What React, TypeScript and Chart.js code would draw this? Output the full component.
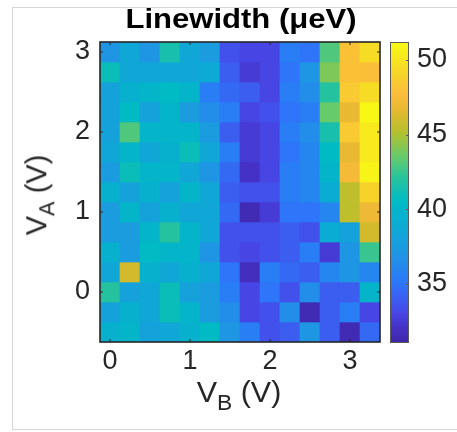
import React, { useEffect, useRef } from "react";
import { Chart, registerables } from "chart.js";

Chart.register(...registerables);

// ---- data ----
const VB: number[] = [0, 0.25, 0.5, 0.75, 1, 1.25, 1.5, 1.75, 2, 2.25, 2.5, 2.75, 3, 3.25];
const VA: number[] = [3, 2.75, 2.5, 2.25, 2, 1.75, 1.5, 1.25, 1, 0.75, 0.5, 0.25, 0, -0.25, -0.5];
// Linewidth (µeV), one row per VA value (top to bottom), one column per VB value
const LINEWIDTH: number[][] = [
  [37, 38.5, 37, 41.5, 38.5, 37.5, 33.5, 33, 33, 35.5, 35, 43, 48, 49.5],
  [41, 38.5, 38.5, 38.5, 38.5, 38.8, 34, 32.5, 33, 35, 37, 44, 48, 47.8],
  [38, 39.5, 40, 40.5, 40, 35.5, 34.5, 34, 33, 35.5, 36.5, 42, 48.5, 49.5],
  [38, 40.5, 38, 40, 37.5, 36.5, 35.5, 33, 33.5, 35, 35.5, 43.5, 46.8, 51],
  [38, 43, 40, 40, 40, 37.5, 34, 32.5, 33, 35.5, 36.5, 41.5, 48.5, 50.3],
  [38.5, 40, 38.5, 39.5, 41, 38.5, 35.5, 32.5, 33, 35, 36, 40.5, 46.8, 50.3],
  [37.5, 41, 40, 40, 38.5, 37, 34.5, 32, 33, 35.5, 36, 40, 47.3, 50.8],
  [39.5, 38, 39.5, 38, 40, 38.5, 34, 33.5, 33.5, 35.5, 36, 39, 45.5, 49],
  [37.5, 40, 38, 39.5, 38.5, 38.5, 34.5, 31.5, 32.5, 35, 35, 36, 45.5, 47],
  [37.5, 37.5, 40, 42, 40, 38.5, 33.5, 33.5, 33.5, 34, 33.5, 39, 38, 46],
  [39.5, 37.5, 40.5, 40, 40, 37, 33.5, 33, 33.5, 34, 35.5, 32.5, 37, 42.5],
  [38.5, 46, 39.5, 38.5, 39.5, 38.5, 35, 31.8, 35.5, 34.5, 34, 36, 37, 36],
  [42, 38, 38.5, 41, 38, 37.5, 35.5, 33, 35, 33.5, 36.5, 34, 34, 40],
  [38, 39.5, 38.5, 41, 40, 37.5, 36.5, 33, 33.5, 36.5, 31.5, 34, 35.5, 33],
  [39.5, 40, 38, 38.5, 39.5, 40.5, 37, 35.5, 33.5, 34, 37, 34, 31.5, 34.5],
];
const X_TICKS: number[] = [0, 1, 2, 3];
const Y_TICKS: number[] = [0, 1, 2, 3];
const CBAR_TICKS: number[] = [35, 40, 45, 50];
const CMIN = 31.1;
const CMAX = 51.2;
const STEP = 0.25;

// ---- parula-like colormap ----
const PARULA: [number, number, number, number][] = [
  [0.0, 62, 38, 168],
  [0.05, 70, 50, 200],
  [0.1, 71, 72, 232],
  [0.2, 44, 120, 250],
  [0.3, 30, 152, 226],
  [0.4, 10, 174, 210],
  [0.47, 0, 186, 196],
  [0.55, 40, 195, 155],
  [0.62, 105, 203, 105],
  [0.7, 180, 192, 45],
  [0.76, 222, 185, 45],
  [0.82, 252, 186, 60],
  [0.9, 246, 214, 40],
  [1.0, 249, 251, 20],
];
function parulaT(t: number): string {
  t = Math.max(0, Math.min(1, t));
  for (let i = 1; i < PARULA.length; i++) {
    const a = PARULA[i - 1];
    const b = PARULA[i];
    if (t <= b[0]) {
      const f = (t - a[0]) / (b[0] - a[0]);
      const c = [1, 2, 3].map((k) => Math.round(a[k] + (b[k] - a[k]) * f));
      return `rgb(${c[0]},${c[1]},${c[2]})`;
    }
  }
  const l = PARULA[PARULA.length - 1];
  return `rgb(${l[1]},${l[2]},${l[3]})`;
}
const colorFor = (v: number) => parulaT((v - CMIN) / (CMAX - CMIN));

const FONT = '"Liberation Sans", Arial, Helvetica, sans-serif';
const TEXT = "#262626";

const framePlugin = {
  id: "frameTicks",
  afterDatasetsDraw(chart: any) {
    const { ctx, chartArea: a, scales } = chart;
    const x = scales.x;
    const y = scales.y;
    ctx.save();
    ctx.strokeStyle = TEXT;
    ctx.lineWidth = 1;
    ctx.beginPath();
    for (const t of x.ticks) {
      const px = x.getPixelForValue(t.value);
      ctx.moveTo(px, a.bottom);
      ctx.lineTo(px, a.bottom - 3);
      ctx.moveTo(px, a.top);
      ctx.lineTo(px, a.top + 3);
    }
    for (const t of y.ticks) {
      const py = y.getPixelForValue(t.value);
      ctx.moveTo(a.left, py);
      ctx.lineTo(a.left + 3, py);
      ctx.moveTo(a.right, py);
      ctx.lineTo(a.right - 3, py);
    }
    ctx.stroke();
    ctx.lineWidth = 1.6;
    ctx.strokeRect(a.left, a.top, a.right - a.left, a.bottom - a.top);
    ctx.restore();
  },
};

const cbarPlugin = {
  id: "cbarTicks",
  afterDatasetsDraw(chart: any) {
    const { ctx, chartArea: a, scales } = chart;
    const y = scales.y;
    ctx.save();
    ctx.strokeStyle = "#5a5a5a";
    ctx.lineWidth = 1;
    ctx.beginPath();
    for (const t of y.ticks) {
      const py = Math.round(y.getPixelForValue(t.value)) + 0.5;
      ctx.moveTo(a.right, py);
      ctx.lineTo(a.right - 3, py);
    }
    ctx.stroke();
    ctx.strokeRect(a.left + 0.5, a.top + 0.5, a.right - a.left - 1, a.bottom - a.top);
    ctx.restore();
  },
};

function Heatmap() {
  const ref = useRef<HTMLCanvasElement>(null);
  useEffect(() => {
    if (!ref.current) return;
    const datasets = VA.map((ya, r) => ({
      label: `VA=${ya}`,
      data: VB.map((xb) => ({ x: xb, y: [ya - STEP / 2, ya + STEP / 2] })),
      backgroundColor: LINEWIDTH[r].map(colorFor),
      borderWidth: 0,
      barPercentage: 1,
      categoryPercentage: 1,
      grouped: false,
    }));
    const chart = new Chart(ref.current, {
      type: "bar",
      data: { datasets: datasets as any },
      options: {
        animation: false,
        responsive: true,
        maintainAspectRatio: false,
        layout: { padding: { left: 0, top: 42, right: 77, bottom: 0 } },
        plugins: { legend: { display: false }, tooltip: { enabled: false }, title: { display: false } },
        scales: {
          x: {
            type: "linear",
            min: VB[0] - STEP / 2,
            max: VB[VB.length - 1] + STEP / 2,
            offset: false,
            grid: { display: false, drawTicks: false, offset: false },
            border: { display: false },
            afterBuildTicks: (s: any) => {
              s.ticks = X_TICKS.map((v) => ({ value: v }));
            },
            ticks: { font: { size: 27, family: FONT }, color: TEXT, padding: 3, maxRotation: 0, autoSkip: false },
            afterFit: (s: any) => {
              s.height = 90;
            },
          },
          y: {
            type: "linear",
            min: VA[VA.length - 1] - STEP / 2,
            max: VA[0] + STEP / 2,
            grid: { display: false, drawTicks: false },
            border: { display: false },
            afterBuildTicks: (s: any) => {
              s.ticks = Y_TICKS.map((v) => ({ value: v }));
            },
            ticks: { font: { size: 27, family: FONT }, color: TEXT, padding: 10, autoSkip: false },
            afterFit: (s: any) => {
              s.width = 100;
            },
          },
        },
      },
      plugins: [framePlugin],
    });
    return () => chart.destroy();
  }, []);
  return (
    <div style={{ position: "absolute", left: 0, top: 0, width: 457, height: 432 }}>
      <canvas ref={ref} />
    </div>
  );
}

function Colorbar() {
  const ref = useRef<HTMLCanvasElement>(null);
  useEffect(() => {
    if (!ref.current) return;
    const chart = new Chart(ref.current, {
      type: "bar",
      data: {
        labels: ["Linewidth"],
        datasets: [
          {
            data: [[CMIN, CMAX]] as any,
            backgroundColor: (c: any) => {
              const ch = c.chart;
              const ys = ch.scales && ch.scales.y;
              if (!ch.chartArea || !ys) return colorFor((CMIN + CMAX) / 2);
              const g = ch.ctx.createLinearGradient(0, ys.getPixelForValue(CMIN), 0, ys.getPixelForValue(CMAX));
              for (let i = 0; i <= 64; i++) g.addColorStop(i / 64, parulaT(i / 64));
              return g;
            },
            borderWidth: 0,
            barPercentage: 1,
            categoryPercentage: 1,
          },
        ],
      },
      options: {
        animation: false,
        responsive: true,
        maintainAspectRatio: false,
        layout: { padding: { left: 10, top: 42, right: 0, bottom: 90 } },
        plugins: { legend: { display: false }, tooltip: { enabled: false } },
        scales: {
          x: { display: false },
          y: {
            position: "right",
            min: CMIN,
            max: CMAX,
            grid: { display: false, drawTicks: false },
            border: { display: false },
            afterBuildTicks: (s: any) => {
              s.ticks = CBAR_TICKS.map((v) => ({ value: v }));
            },
            ticks: { font: { size: 27, family: FONT }, color: TEXT, padding: 8, autoSkip: false },
            afterFit: (s: any) => {
              s.width = 48;
            },
          },
        },
      },
      plugins: [cbarPlugin],
    });
    return () => chart.destroy();
  }, []);
  return (
    <div style={{ position: "absolute", left: 380, top: 0, width: 77, height: 432 }}>
      <canvas ref={ref} />
    </div>
  );
}

export default function App() {
  const label: React.CSSProperties = {
    position: "absolute",
    fontFamily: FONT,
    color: TEXT,
    fontSize: 29,
    whiteSpace: "nowrap",
    lineHeight: 1,
  };
  return (
    <div
      style={{
        position: "absolute",
        left: 0,
        top: 0,
        width: 457,
        height: 432,
        overflow: "hidden",
        background: "#fff",
      }}
    >
      <div
        style={{
          position: "absolute",
          left: 12,
          top: 7,
          width: 470,
          height: 421,
          border: "1px solid #d6d6d6",
        }}
      />
      <Heatmap />
      <Colorbar />
      <div
        style={{
          ...label,
          left: 241,
          top: 6,
          transform: "translateX(-50%) scaleX(1.15)",
          fontWeight: "bold",
          fontSize: 27,
          color: "#000",
        }}
      >
        Linewidth (μeV)
      </div>
      <div style={{ ...label, left: 239, top: 378, transform: "translateX(-50%) scaleX(1.05)" }}>
        V<sub style={{ fontSize: "0.75em", verticalAlign: "-0.35em" }}>B</sub> (V)
      </div>
      <div
        style={{
          ...label,
          left: 40,
          top: 195,
          transform: "translate(-50%, -50%) rotate(-90deg)",
        }}
      >
        V<sub style={{ fontSize: "0.75em", verticalAlign: "-0.35em" }}>A</sub> (V)
      </div>
    </div>
  );
}
